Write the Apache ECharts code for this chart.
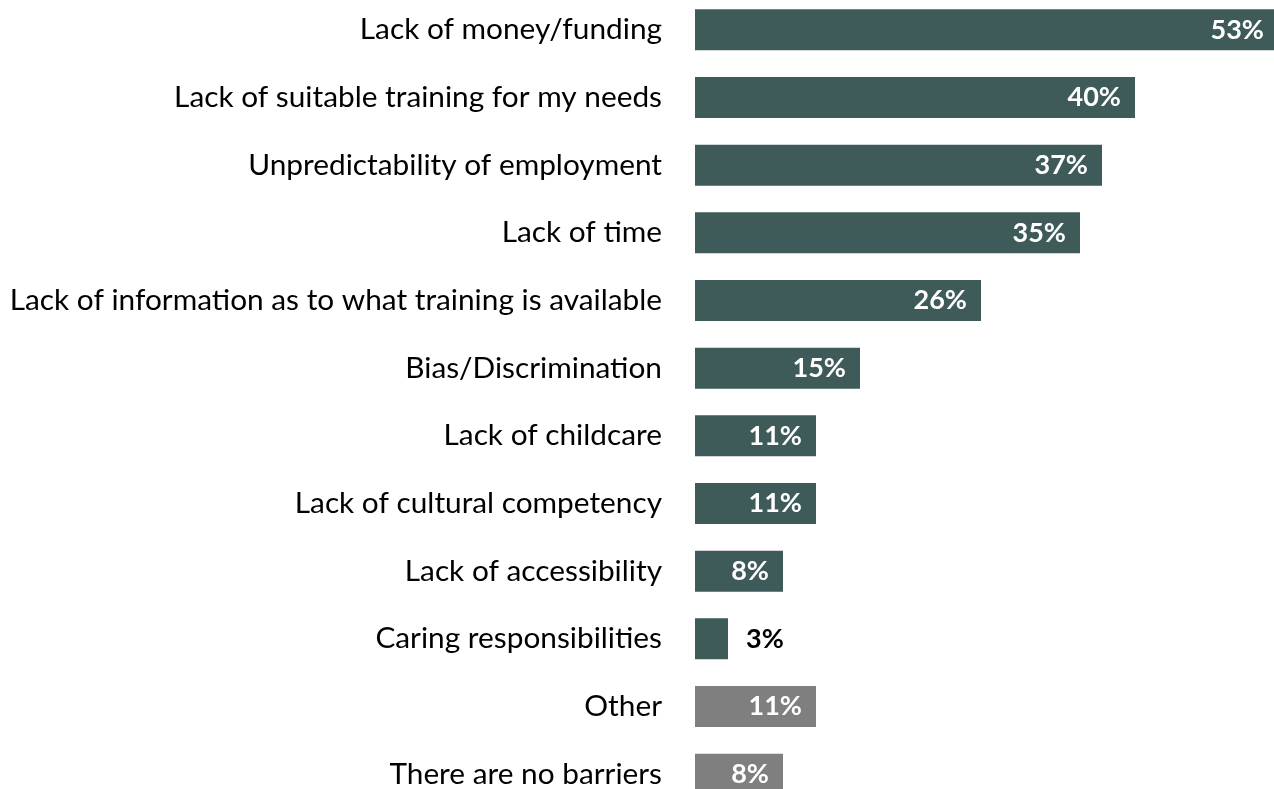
<!DOCTYPE html>
<html>
<head>
<meta charset="utf-8">
<style>
  html, body { margin: 0; padding: 0; background: #ffffff; }
  #chart { width: 1274px; height: 789px; }
</style>
<script src="https://cdn.jsdelivr.net/npm/echarts@6/dist/echarts.min.js"></script>
</head>
<body>
<div id="chart"></div>
<script>
// Barriers to training, share of respondents (%)
const categories = [
  'Lack of money/funding',
  'Lack of suitable training for my needs',
  'Unpredictability of employment',
  'Lack of time',
  'Lack of information as to what training is available',
  'Bias/Discrimination',
  'Lack of childcare',
  'Lack of cultural competency',
  'Lack of accessibility',
  'Caring responsibilities',
  'Other',
  'There are no barriers'
];
const values = [53, 40, 37, 35, 26, 15, 11, 11, 8, 3, 11, 8];
// Responses that are not a named barrier are drawn in grey
const neutralCategories = ['Other', 'There are no barriers'];

const TEAL = '#3e5b59';
const GREY = '#7f7f7f';
const FONT = 'Lato';

const chart = echarts.init(document.getElementById('chart'));

const barData = values.map((v, i) => {
  const neutral = neutralCategories.includes(categories[i]);
  const small = v < 5;
  return {
    value: v,
    itemStyle: { color: neutral ? GREY : TEAL },
    label: small
      ? { position: 'right', distance: 18, color: '#000000' }
      : { position: 'insideRight', distance: 14, color: '#ffffff' }
  };
});

chart.setOption({
  animation: false,
  backgroundColor: '#ffffff',
  grid: {
    left: 695, top: -4, width: 660, height: 812,
    containLabel: false,
    outerBoundsMode: 'none'
  },
  xAxis: {
    type: 'value',
    min: 0,
    max: 60,
    show: false
  },
  yAxis: {
    type: 'category',
    inverse: true,
    data: categories,
    axisLine: { show: false },
    axisTick: { show: false },
    splitLine: { show: false },
    axisLabel: {
      margin: 33,
      color: '#000000',
      fontFamily: FONT,
      fontSize: 29.8
    }
  },
  series: [{
    type: 'bar',
    data: barData,
    barWidth: 41,
    label: {
      show: true,
      formatter: p => p.value + '%',
      fontFamily: FONT,
      fontWeight: 'bold',
      fontSize: 27
    }
  }]
});
</script>
</body>
</html>
